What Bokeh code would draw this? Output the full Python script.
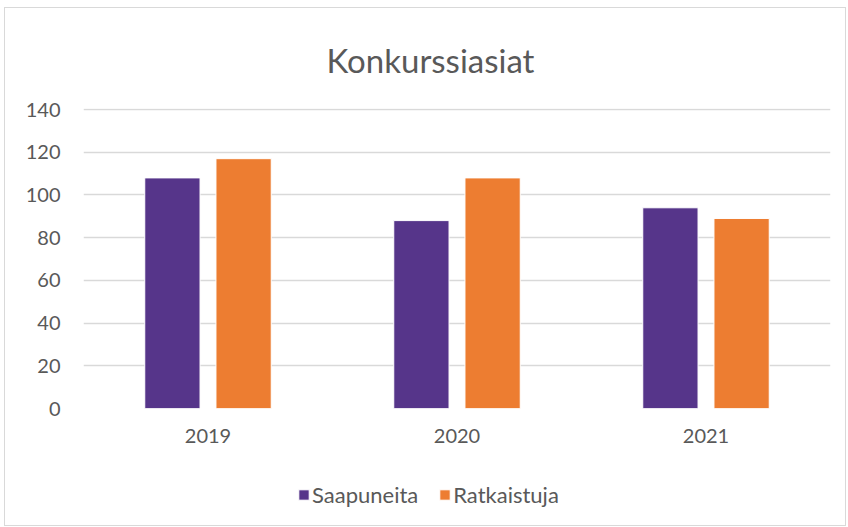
from bokeh.plotting import figure
from bokeh.layouts import column
from bokeh.models import ColumnDataSource, FactorRange, Range1d, FixedTicker, Legend, LegendItem
from bokeh.transform import dodge
from bokeh.embed import file_html
from bokeh.resources import INLINE

years = ["2019", "2020", "2021"]
saapuneita = [108, 88, 94]
ratkaistuja = [117, 108, 89]
y_ticks = [0, 20, 40, 60, 80, 100, 120, 140]
series_names = ["Saapuneita", "Ratkaistuja"]
colors = ["#56358A", "#ED7D31"]

FONT = "Lato"
GRAY = "#595959"

src = ColumnDataSource(dict(year=years, s=saapuneita, r=ratkaistuja))
xr = FactorRange(*years, range_padding=0)

p = figure(x_range=xr, y_range=Range1d(0, 140.5),
           width=840, height=460, output_backend="svg", toolbar_location=None,
           min_border_left=78, min_border_right=15, min_border_top=99, min_border_bottom=60)


def add_bars(fig):
    r1 = fig.vbar(x=dodge("year", -0.143, range=xr), top="s", width=0.222, source=src,
                  fill_color=colors[0], line_color="white", line_width=1)
    r2 = fig.vbar(x=dodge("year", 0.143, range=xr), top="r", width=0.222, source=src,
                  fill_color=colors[1], line_color="white", line_width=1)
    return r1, r2


add_bars(p)

p.title.text = "Konkurssiasiat"
p.title.align = "left"
p.title.offset = 243
p.title.text_font = FONT
p.title.text_font_size = "33px"
p.title.text_font_style = "normal"
p.title.text_color = GRAY
p.title.standoff = 58

p.yaxis.ticker = FixedTicker(ticks=y_ticks)
p.yaxis.axis_line_color = None
p.yaxis.major_tick_line_color = None
p.yaxis.minor_tick_line_color = None
p.yaxis.major_label_text_font = FONT
p.yaxis.major_label_text_font_size = "20px"
p.yaxis.major_label_text_color = GRAY
p.yaxis.major_label_standoff = 17

p.xaxis.axis_line_color = None
p.xaxis.major_tick_line_color = None
p.xaxis.major_label_text_font = FONT
p.xaxis.major_label_text_font_size = "20px"
p.xaxis.major_label_text_color = GRAY
p.xaxis.major_label_standoff = 14

p.xgrid.grid_line_color = None
p.ygrid.grid_line_color = "#D9D9D9"
p.ygrid.grid_line_width = 1.5
p.outline_line_color = None

# legend strip (bars out of view; only the legend shows)
lg = figure(x_range=xr, y_range=Range1d(1000, 1001), width=840, height=57,
            output_backend="svg", toolbar_location=None,
            min_border_left=0, min_border_right=0, min_border_top=0, min_border_bottom=0)
l1, l2 = add_bars(lg)
lg.axis.visible = False
lg.grid.grid_line_color = None
lg.outline_line_color = None

legend = Legend(items=[LegendItem(label=series_names[0], renderers=[l1]),
                       LegendItem(label=series_names[1], renderers=[l2])],
                orientation="horizontal", location=(214, 17),
                label_text_font=FONT, label_text_font_size="22px", label_text_color=GRAY,
                glyph_width=13, glyph_height=13, spacing=20, label_standoff=2,
                border_line_color=None, background_fill_alpha=0, margin=0, padding=4)
lg.add_layout(legend)

layout = column(p, lg, spacing=0)
layout.styles = {"border": "1px solid #D9D9D9", "margin-left": "4px", "margin-top": "7px"}

open("out.html", "w").write(file_html(layout, INLINE))
